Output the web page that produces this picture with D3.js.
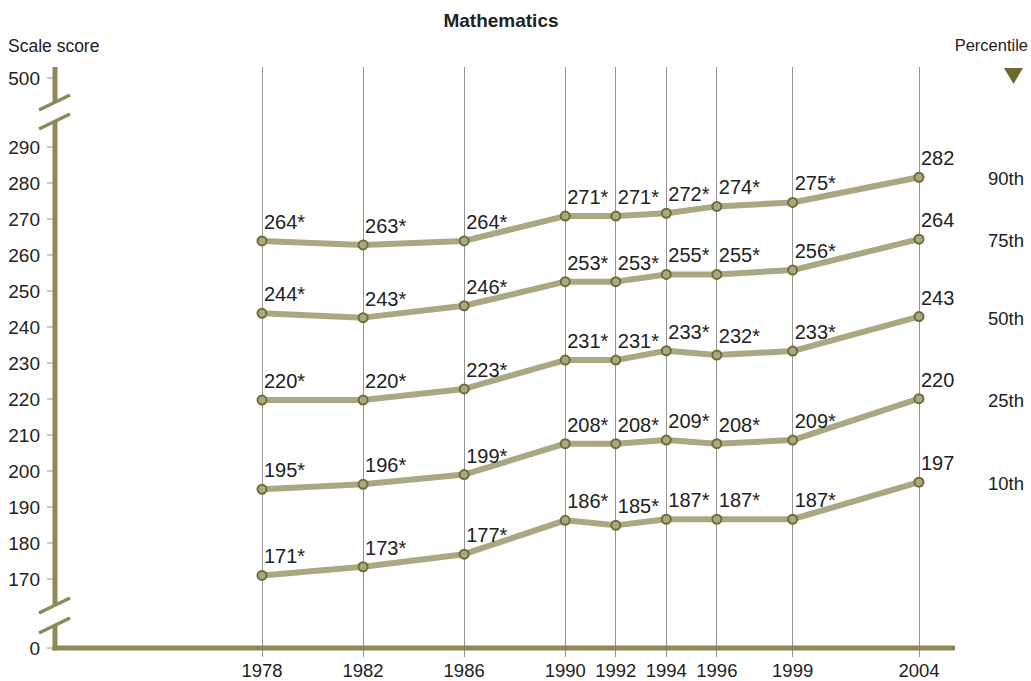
<!DOCTYPE html>
<html>
<head>
<meta charset="utf-8">
<script src="https://cdn.jsdelivr.net/npm/d3@7"></script>
<style>
  html, body { margin: 0; padding: 0; background: #fff; }
  svg text { font-family: "Liberation Sans", Arial, sans-serif; fill: #222; }
</style>
</head>
<body>
<div id="chart"></div>
<script>
// survey years and percentile scores (plotted value, label = rounded)
const years = [1978, 1982, 1986, 1990, 1992, 1994, 1996, 1999, 2004];
const p90 = [263.9, 262.8, 263.9, 270.8, 270.8, 271.6, 273.5, 274.6, 281.6];
const p75 = [243.8, 242.6, 245.9, 252.6, 252.6, 254.6, 254.6, 255.8, 264.4];
const p50 = [219.7, 219.7, 222.8, 230.8, 230.8, 233.4, 232.2, 233.3, 242.9];
const p25 = [194.9, 196.3, 199.0, 207.6, 207.6, 208.6, 207.6, 208.6, 220.1];
const p10 = [171.0, 173.4, 176.9, 186.3, 184.9, 186.6, 186.6, 186.6, 196.9];
// * = significantly different from 2004
const significant = [true, true, true, true, true, true, true, true, false];
const percentiles = ["90th", "75th", "50th", "25th", "10th"];
const yTicks = [0, 170, 180, 190, 200, 210, 220, 230, 240, 250, 260, 270, 280, 290, 500];

const series = [p90, p75, p50, p25, p10].map((vals, i) => ({
  name: percentiles[i],
  points: vals.map((v, j) => ({ year: years[j], value: v, sig: significant[j] }))
}));

const width = 1031, height = 681;
const AXIS = "#8c8a58", LINE = "#a9a883", DOT = "#6e6d33", GRID = "#949494";

const svg = d3.select("#chart").append("svg")
  .attr("width", width)
  .attr("height", height);

const x = d3.scaleLinear().domain([1978, 2004]).range([262, 919]);
// broken axis: 0 and 500 squeezed against the 170-290 band
const y = d3.scaleLinear().domain([0, 170, 290, 500]).range([648, 579, 147, 78]);

const axisX = 55, plotTop = 67, plotBottom = 648;

// title and axis captions
svg.append("text")
  .attr("x", 501).attr("y", 27)
  .attr("text-anchor", "middle")
  .style("font-weight", "bold").style("font-size", "19px")
  .text("Mathematics");

svg.append("text")
  .attr("x", 8).attr("y", 52)
  .style("font-size", "17.5px")
  .text("Scale score");

svg.append("text")
  .attr("x", 1028).attr("y", 51)
  .attr("text-anchor", "end")
  .style("font-size", "16.5px")
  .text("Percentile");

svg.append("path")
  .attr("d", "M1004,68 L1023,68 L1013.5,84 Z")
  .attr("fill", "#6b6a2c");

// vertical year gridlines (run a little below the axis as ticks)
svg.append("g").selectAll("line")
  .data(years)
  .join("line")
  .attr("x1", d => x(d)).attr("x2", d => x(d))
  .attr("y1", plotTop).attr("y2", 657)
  .attr("stroke", GRID).attr("stroke-width", 1)
  .attr("shape-rendering", "crispEdges");

// year labels
svg.append("g").selectAll("text")
  .data(years)
  .join("text")
  .attr("x", d => x(d)).attr("y", 677)
  .attr("text-anchor", "middle")
  .style("font-size", "18.5px")
  .text(d => d);

// y ticks + labels
const yAxis = svg.append("g");
yAxis.selectAll("line")
  .data(yTicks)
  .join("line")
  .attr("x1", 47).attr("x2", 53)
  .attr("y1", d => y(d)).attr("y2", d => y(d))
  .attr("stroke", GRID).attr("stroke-width", 1);
yAxis.selectAll("text")
  .data(yTicks)
  .join("text")
  .attr("x", 40).attr("y", d => y(d) + 7)
  .attr("text-anchor", "end")
  .style("font-size", "19px")
  .text(d => d);

// vertical axis in three pieces with break slashes
const axisSegs = [[plotTop, 102], [121, 606], [625, plotBottom + 2.5]];
svg.append("g").selectAll("line")
  .data(axisSegs)
  .join("line")
  .attr("x1", axisX).attr("x2", axisX)
  .attr("y1", d => d[0]).attr("y2", d => d[1])
  .attr("stroke", AXIS).attr("stroke-width", 5);

const slashes = [110, 129, 613, 633];
svg.append("g").selectAll("line")
  .data(slashes)
  .join("line")
  .attr("x1", 39).attr("y1", d => d)
  .attr("x2", 70).attr("y2", d => d - 15)
  .attr("stroke", AXIS).attr("stroke-width", 3.5);

// horizontal base axis
svg.append("line")
  .attr("x1", axisX - 2.5).attr("x2", 955)
  .attr("y1", plotBottom).attr("y2", plotBottom)
  .attr("stroke", AXIS).attr("stroke-width", 5);

// percentile lines
const line = d3.line().x(d => x(d.year)).y(d => y(d.value));

const groups = svg.append("g").selectAll("g")
  .data(series)
  .join("g");

groups.append("path")
  .attr("d", d => line(d.points))
  .attr("fill", "none")
  .attr("stroke", LINE)
  .attr("stroke-width", 6)
  .attr("stroke-linejoin", "round");

groups.selectAll("circle")
  .data(d => d.points)
  .join("circle")
  .attr("cx", d => x(d.year)).attr("cy", d => y(d.value))
  .attr("r", 4.5)
  .attr("fill", LINE)
  .attr("stroke", DOT)
  .attr("stroke-width", 2);

groups.selectAll("text.val")
  .data(d => d.points)
  .join("text")
  .attr("class", "val")
  .attr("x", d => x(d.year) + 2)
  .attr("y", d => y(d.value) - 12)
  .style("font-size", "20px")
  .text(d => Math.round(d.value) + (d.sig ? "*" : ""));

// percentile names on the right, level with the 2004 point
groups.append("text")
  .attr("x", 988)
  .attr("y", d => y(d.points[d.points.length - 1].value) + 8)
  .style("font-size", "18.5px")
  .text(d => d.name);
</script>
</body>
</html>
